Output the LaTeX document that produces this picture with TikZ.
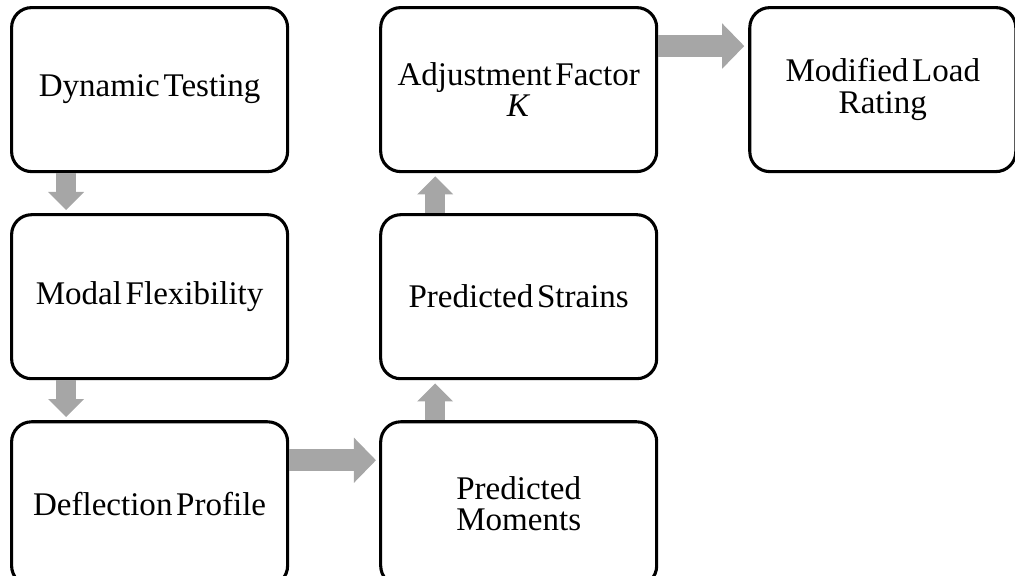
\documentclass[tikz,border=0pt]{standalone}
\usepackage{fontspec}
\setmainfont[WordSpace=0.45]{Liberation Serif}
\usetikzlibrary{positioning,arrows.meta}
\definecolor{arrowgray}{RGB}{166,166,166}

\begin{document}
\begin{tikzpicture}[
  box/.style={draw, line width=2.2pt, rounded corners=0.5cm, minimum width=6.9cm,
    minimum height=4.1cm, align=center, font=\fontsize{23.5}{22.5}\selectfont},
  vflow/.style={draw=arrowgray, line width=0.5cm,
    -{Triangle[width=0.9cm,length=0.45cm,line width=0pt]}},
  hflow/.style={draw=arrowgray, line width=0.55cm,
    -{Triangle[width=1.13cm,length=0.55cm,line width=0pt]}}]
  \useasboundingbox (0,0) rectangle (25.375,-14.375);
  % left column, top to bottom
  \node[box] (dyn) at (3.74,-2.24) {Dynamic Testing};
  \node[box, below=1cm of dyn] (modal) {Modal Flexibility};
  \node[box, below=1cm of modal] (defl) {Deflection Profile};
  % middle column, bottom to top
  \node[box, right=2.25cm of defl] (mom) {Predicted\\Moments};
  \node[box, above=1cm of mom] (strain) {Predicted Strains};
  \node[box, above=1cm of strain] (adj) {Adjustment Factor\\\textit{K}};
  \node[box, right=2.25cm of adj, minimum width=6.65cm] (rating) {Modified Load\\Rating};
  % block arrows
  \draw[vflow] ([xshift=1.4cm]dyn.south west) -- ([xshift=1.4cm,yshift=0.08cm]modal.north west);
  \draw[vflow] ([xshift=1.4cm]modal.south west) -- ([xshift=1.4cm,yshift=0.08cm]defl.north west);
  \draw[hflow] ([yshift=-1cm]defl.north east) -- ([yshift=-1cm,xshift=-0.08cm]mom.north west);
  \draw[vflow] ([xshift=1.4cm]mom.north west) -- ([xshift=1.4cm,yshift=-0.08cm]strain.south west);
  \draw[vflow] ([xshift=1.4cm]strain.north west) -- ([xshift=1.4cm,yshift=-0.08cm]adj.south west);
  \draw[hflow] ([yshift=-1cm]adj.north east) -- ([yshift=-1cm,xshift=-0.1cm]rating.north west);
\end{tikzpicture}
\end{document}
